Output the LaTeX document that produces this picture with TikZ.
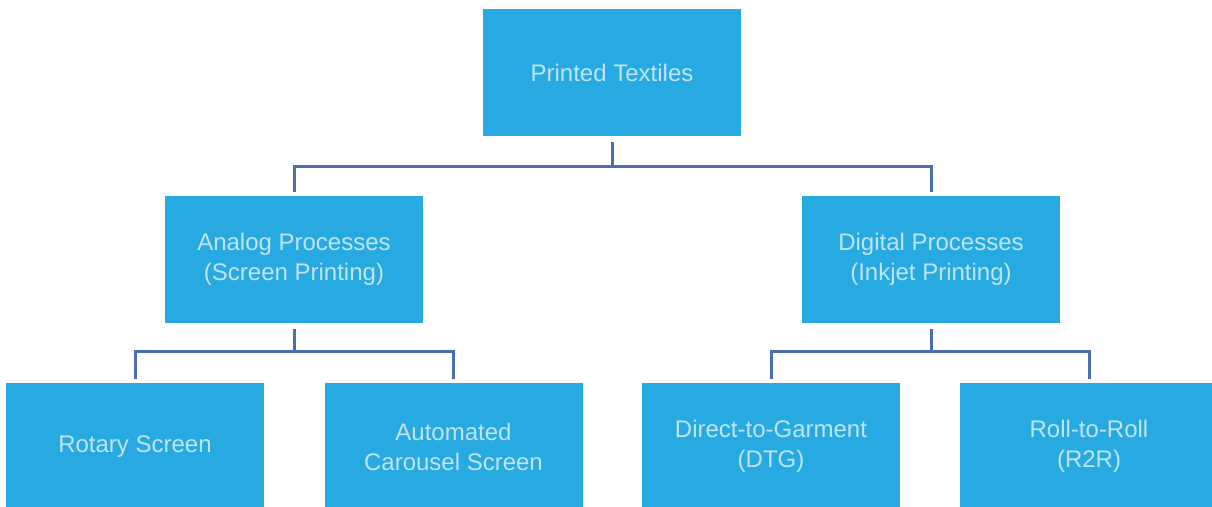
\documentclass[tikz,border=0pt]{standalone}
\usepackage{fontspec}
\setmainfont{Liberation Sans}
\definecolor{boxblue}{HTML}{27AAE1}
\definecolor{linkblue}{HTML}{4A6FAE}
\definecolor{txtblue}{HTML}{BFE4F5}
\begin{document}
\begin{tikzpicture}[x=1pt,y=-1pt,
  box/.style={fill=boxblue,draw=none,minimum width=258pt,minimum height=127pt,inner sep=0pt,
    text=txtblue,align=center,font=\fontsize{24}{30}\selectfont},
  link/.style={draw=linkblue,line width=3pt}]
\useasboundingbox[fill=white] (0,0) rectangle (1212,506);
\begin{scope}
\clip (0,0) rectangle (1212,506);
\node[box] (top) at (612,72.5) {Printed Textiles};
\node[box] (ana) at (294,259.5) {Analog Processes\\(Screen Printing)};
\node[box] (dig) at (931,259.5) {Digital Processes\\(Inkjet Printing)};
\node[box] (rot) at (135,446.5) {Rotary Screen};
\node[box] (aut) at (453.5,446.5) {Automated\\Carousel Screen};
\node[box] (dtg) at (771,446.5) {Direct-to-Garment\\(DTG)};
\node[box] (r2r) at (1089,446.5) {Roll-to-Roll\\(R2R)};
\coordinate (j1) at (612,166);
\coordinate (j2) at (294,351);
\coordinate (j3) at (931,351);
\draw[link] ([yshift=-6pt]top.south) -- (j1);
\draw[link] ([yshift=4pt]ana.north) |- (j1) -| ([yshift=4pt]dig.north);
\draw[link] ([yshift=-6pt]ana.south) -- (j2);
\draw[link] ([yshift=4pt]rot.north) |- (j2) -| ([yshift=4pt]aut.north);
\draw[link] ([yshift=-6pt]dig.south) -- (j3);
\draw[link] ([yshift=4pt]dtg.north) |- (j3) -| ([yshift=4pt]r2r.north);
\end{scope}
\end{tikzpicture}
\end{document}
